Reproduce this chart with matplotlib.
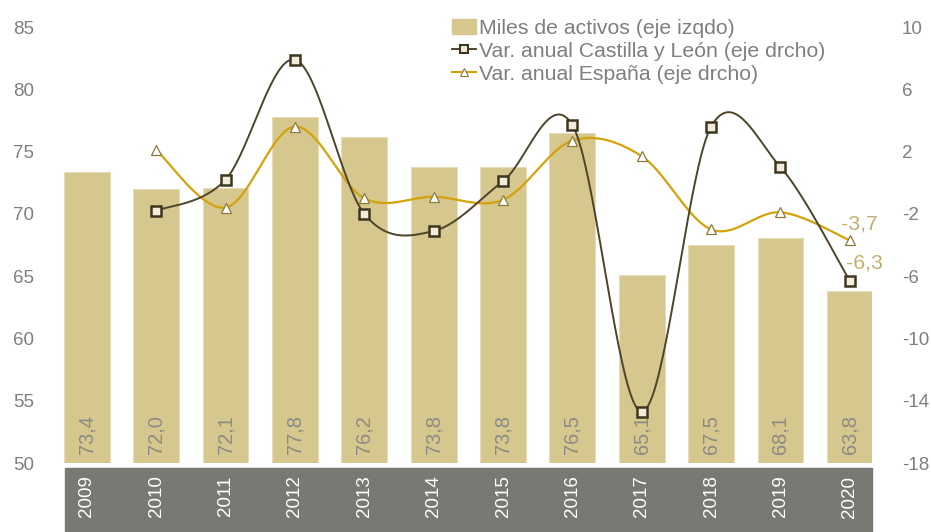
import numpy as np
import matplotlib.pyplot as plt
from matplotlib.patches import Rectangle

plt.rcParams['font.family'] = ['Liberation Sans', 'DejaVu Sans']
plt.rcParams['axes.unicode_minus'] = False

years = ['2009', '2010', '2011', '2012', '2013', '2014', '2015', '2016', '2017', '2018', '2019', '2020']
activos = [73.4, 72.0, 72.1, 77.8, 76.2, 73.8, 73.8, 76.5, 65.1, 67.5, 68.1, 63.8]
var_cyl = [np.nan, -1.8, 0.2, 7.9, -2.0, -3.1, 0.1, 3.7, -14.7, 3.6, 1.0, -6.3]
var_esp = [np.nan, 2.1, -1.6, 3.6, -1.0, -0.9, -1.1, 2.7, 1.7, -3.0, -1.9, -3.7]

bar_color = '#D5C78E'
cyl_color = '#4D4429'
esp_color = '#D4A20A'
text_grey = '#7F7F7F'
band_grey = '#797873'


def smooth(ax, xs, ys, n=40):
    # Excel-like smoothed line: Catmull-Rom bezier in screen space
    pts = ax.transData.transform(np.column_stack([xs, ys]))
    out = []
    for i in range(len(pts) - 1):
        p0 = pts[max(i - 1, 0)]
        p1 = pts[i]
        p2 = pts[i + 1]
        p3 = pts[min(i + 2, len(pts) - 1)]
        c1 = p1 + (p2 - p0) / 6
        c2 = p2 - (p3 - p1) / 6
        t = np.linspace(0, 1, n)[:, None]
        seg = (1 - t) ** 3 * p1 + 3 * (1 - t) ** 2 * t * c1 + 3 * (1 - t) * t ** 2 * c2 + t ** 3 * p2
        out.append(seg)
    out = np.vstack(out)
    d = ax.transData.inverted().transform(out)
    return d[:, 0], d[:, 1]


fig = plt.figure(figsize=(9.31, 5.32), dpi=100)
ax = fig.add_axes([64 / 931, 69 / 532, 808 / 931, 436 / 532])
x = np.arange(len(years))

ax.bar(x, activos, width=0.66, color=bar_color, edgecolor='#E6DDB8', linewidth=0.8,
       label='Miles de activos (eje izqdo)', zorder=2)
ax.set_ylim(50, 85)
ax.set_xlim(-0.33, 11.32)
ax.set_yticks(range(50, 86, 5))
for i, v in enumerate(activos):
    ax.text(x[i], 50.75, f'{v:.1f}'.replace('.', ','), rotation=90, ha='center', va='bottom',
            fontsize=14.4, color='#8C8B84', zorder=3)

ax.set_xticks(x)
ax.set_xticklabels(years, rotation=90, color='white', fontsize=13.5)
ax.tick_params(axis='x', length=0, pad=9)
ax.tick_params(axis='y', length=0, labelsize=13.5, labelcolor=text_grey, pad=36.5)
for t in ax.get_yticklabels():
    t.set_horizontalalignment('left')
for s in ax.spines.values():
    s.set_visible(False)

# grey band behind the year labels
ax.add_patch(Rectangle((65 / 931, 0), 807 / 931, 64 / 532, transform=fig.transFigure,
                       color=band_grey, clip_on=False, zorder=0))

ax2 = ax.twinx()
ax2.set_ylim(-18, 10)
ax2.set_yticks(range(-18, 11, 4))
ax2.tick_params(axis='y', length=0, labelsize=13.5, labelcolor=text_grey, pad=21.5)
for s in ax2.spines.values():
    s.set_visible(False)

xl = x[1:]
cyl = np.array(var_cyl[1:])
esp = np.array(var_esp[1:])

sx, sy = smooth(ax2, xl, esp)
ax2.plot(sx, sy, color=esp_color, lw=1.6, zorder=3)
ax2.plot(xl, esp, ls='none', marker='^', ms=6.5, mfc='white', mec='#8A7A3C', mew=0.9, zorder=4)

sx, sy = smooth(ax2, xl, cyl)
ax2.plot(sx, sy, color=cyl_color, lw=1.4, zorder=5)
ax2.plot(xl, cyl, ls='none', marker='s', ms=7, mfc='#F3EBDC', mec='#3E3720', mew=1.8, zorder=6)

lab_color = '#BFB072'
ax2.annotate(f'{var_esp[-1]:.1f}'.replace('.', ','), (x[-1], var_esp[-1]), xytext=(-6, 5),
             textcoords='offset points', ha='left', va='bottom', fontsize=15.3, color=lab_color)
ax2.annotate(f'{var_cyl[-1]:.1f}'.replace('.', ','), (x[-1], var_cyl[-1]), xytext=(-3, 6),
             textcoords='offset points', ha='left', va='bottom', fontsize=15.3, color=lab_color)

# legend
h_bar = Rectangle((0, 0), 1, 1, color=bar_color)
h_cyl, = ax2.plot([], [], color=cyl_color, lw=1.4, marker='s', ms=6, mfc='#F3EBDC', mec='#3E3720', mew=1.5)
h_esp, = ax2.plot([], [], color=esp_color, lw=1.6, marker='^', ms=5.5, mfc='white', mec='#8A7A3C', mew=0.8)
leg = fig.legend([h_bar, h_cyl, h_esp],
                 ['Miles de activos (eje izqdo)', 'Var. anual Castilla y León (eje drcho)',
                  'Var. anual España (eje drcho)'],
                 loc='upper left', bbox_to_anchor=(452 / 931, 1 - 19 / 532), frameon=False,
                 fontsize=15.3, handlelength=1.15, handletextpad=0.1, labelspacing=0.18,
                 borderaxespad=0, borderpad=0, labelcolor=text_grey)

fig.savefig('out.png', dpi=100)
